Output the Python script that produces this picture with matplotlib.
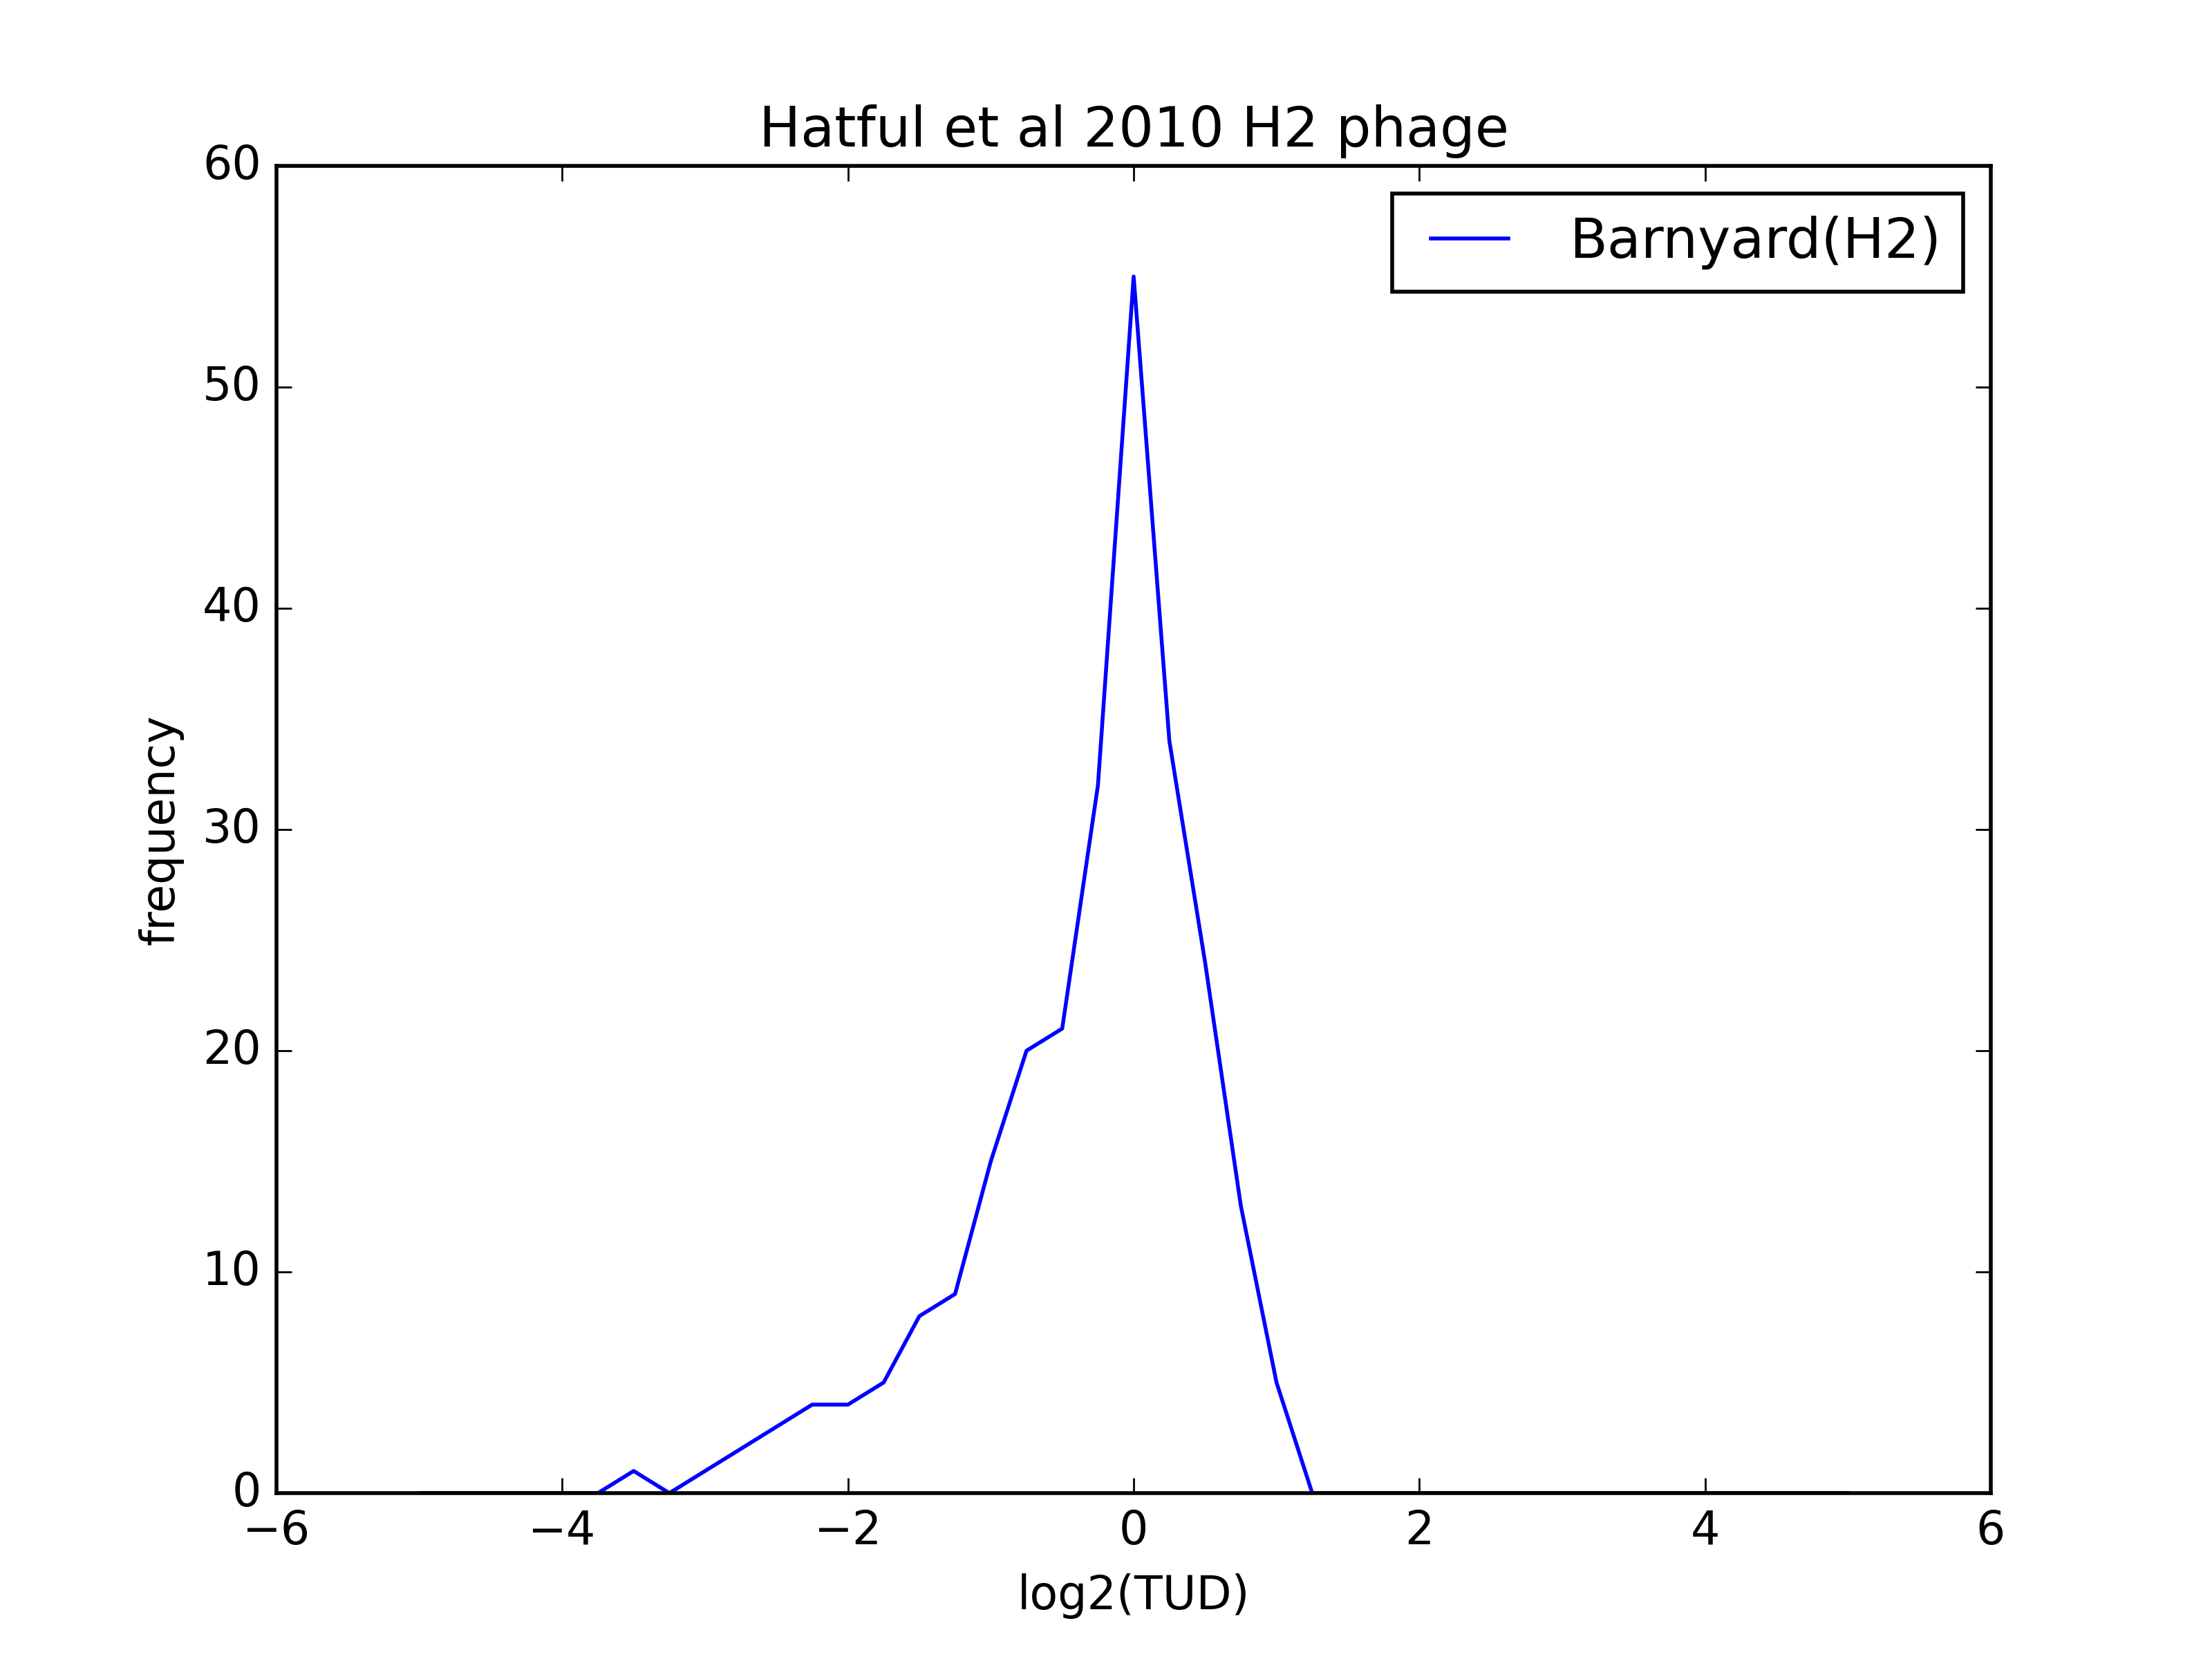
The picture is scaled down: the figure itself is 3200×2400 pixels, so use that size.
import matplotlib
matplotlib.use("Agg")
import matplotlib.pyplot as plt

# histogram of log2(TUD), bin centres every 0.25
log2_tud = [-5.0, -4.75, -4.5, -4.25, -4.0, -3.75, -3.5, -3.25, -3.0, -2.75,
            -2.5, -2.25, -2.0, -1.75, -1.5, -1.25, -1.0, -0.75, -0.5, -0.25,
            0.0, 0.25, 0.5, 0.75, 1.0, 1.25, 1.5, 1.75, 2.0, 2.25,
            2.5, 2.75, 3.0, 3.25, 3.5, 3.75, 4.0, 4.25, 4.5, 4.75, 5.0]
frequency = [0, 0, 0, 0, 0, 0, 1, 0, 1, 2,
             3, 4, 4, 5, 8, 9, 15, 20, 21, 32,
             55, 34, 24, 13, 5, 0, 0, 0, 0, 0,
             0, 0, 0, 0, 0, 0, 0, 0, 0, 0, 0]

plt.style.use("classic")
fig = plt.figure(figsize=(8, 6))
ax = fig.add_subplot(111)
ax.plot(log2_tud, frequency, color="b", label="Barnyard(H2)")
ax.set_xlim(-6, 6)
ax.set_ylim(0, 60)
ax.set_title("Hatful et al 2010 H2 phage")
ax.set_xlabel("log2(TUD)")
ax.set_ylabel("frequency")
ax.legend()
fig.savefig("out.png", dpi=400, facecolor="white")
